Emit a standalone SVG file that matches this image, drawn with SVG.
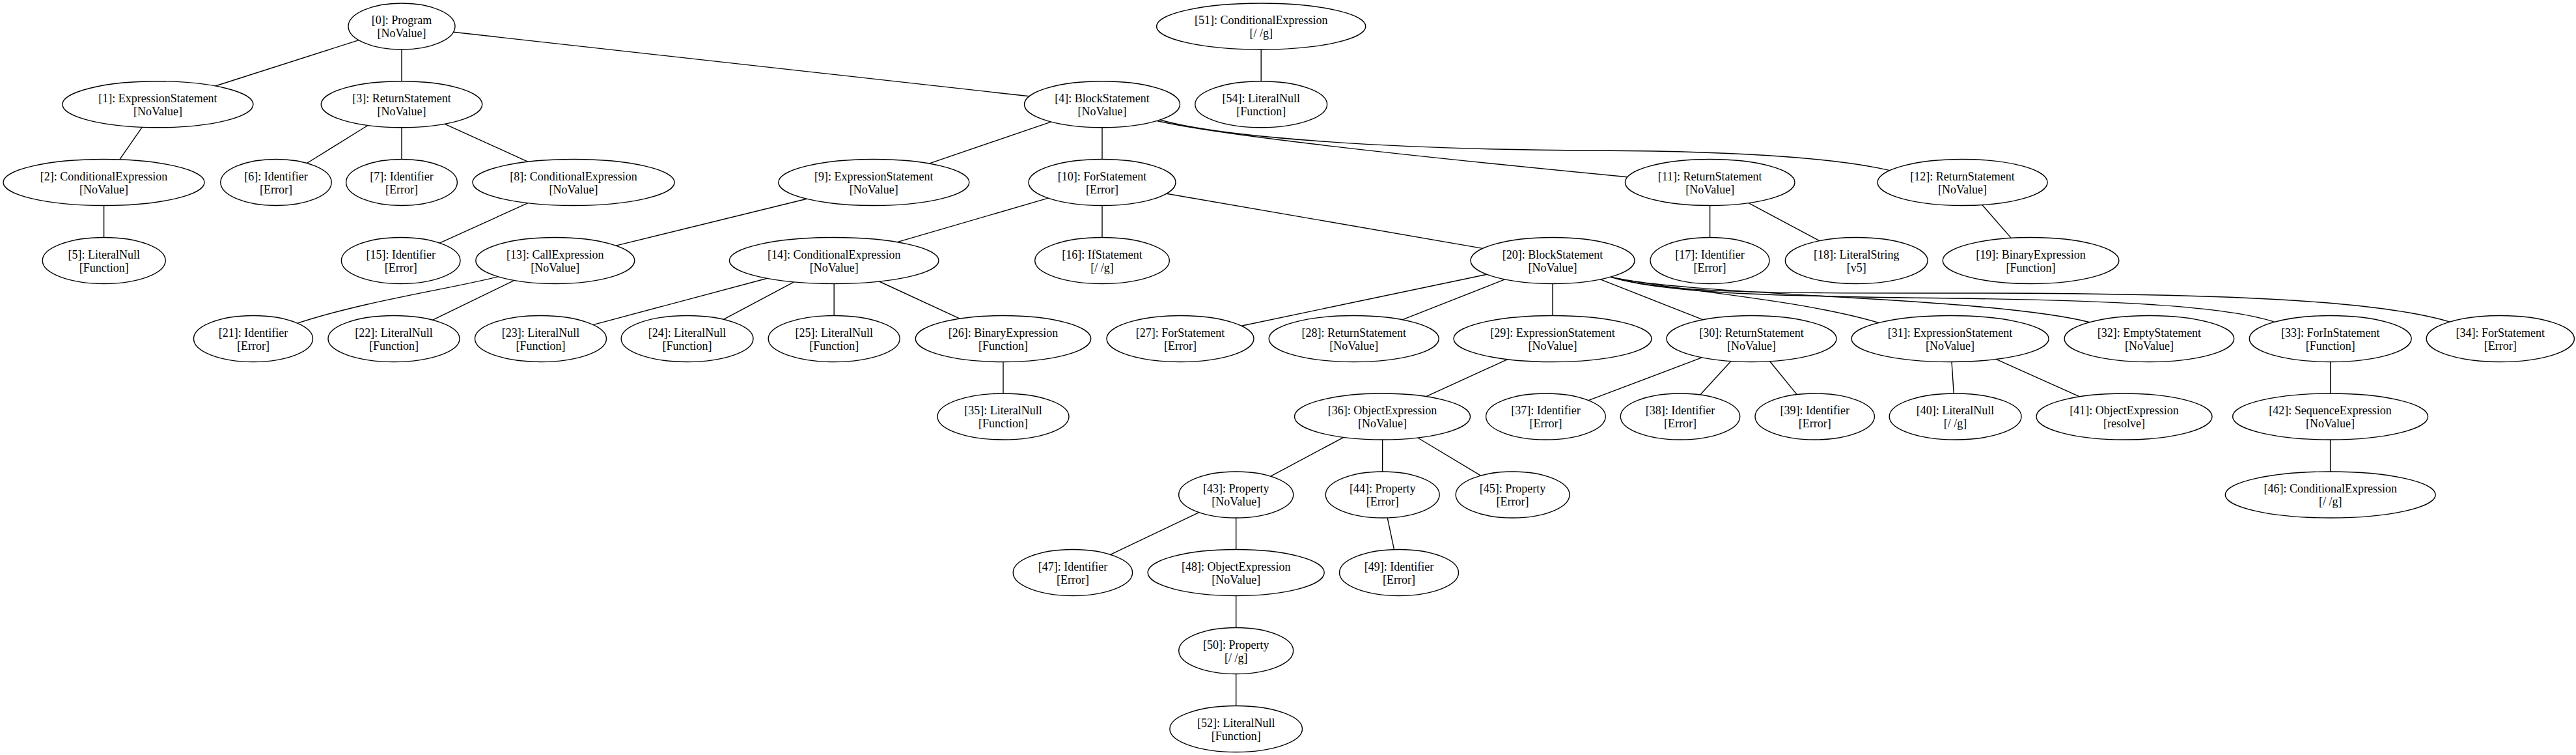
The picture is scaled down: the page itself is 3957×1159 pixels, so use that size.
<svg xmlns="http://www.w3.org/2000/svg" width="3957" height="1159" viewBox="0 0 3957 1159">
<style>
.n ellipse{fill:none;stroke:#000;stroke-width:1.4}
.n text{font-family:"Liberation Serif","Times New Roman",serif;font-size:18px;fill:#000;text-anchor:middle}
#edges path,#edges line{fill:none;stroke:#000;stroke-width:1.4}
</style>
<rect width="3957" height="1159" fill="#fff"/>
<g id="edges">
<line x1="551.1" y1="61.6" x2="330.9" y2="132"/>
<line x1="617" y1="76" x2="617" y2="124.8"/>
<line x1="696.4" y1="49.3" x2="1581.1" y2="147.8"/>
<line x1="218.2" y1="195.3" x2="183.8" y2="244.9"/>
<line x1="159.6" y1="315.5" x2="159.6" y2="364.5"/>
<line x1="565" y1="192.5" x2="471.5" y2="250.5"/>
<line x1="617" y1="195.8" x2="617" y2="244.5"/>
<line x1="683.2" y1="190.3" x2="811.1" y2="248.3"/>
<line x1="1614.5" y1="187.1" x2="1427.1" y2="251.1"/>
<line x1="1693" y1="195.8" x2="1693" y2="244.5"/>
<path d="M1777,185.6 Q1900,214 2500,271.7"/>
<path d="M1782,184 C1880,212 2150,230 2450,231 C2700,232 2830,245 2903,261.6"/>
<line x1="811" y1="311.7" x2="675.2" y2="373.1"/>
<line x1="1239.3" y1="305.2" x2="946.1" y2="377.1"/>
<line x1="1610.2" y1="304.1" x2="1378.3" y2="371.7"/>
<line x1="1693" y1="315.5" x2="1693" y2="364.5"/>
<line x1="1791.9" y1="297.2" x2="2277.7" y2="381.4"/>
<line x1="2626.6" y1="315.5" x2="2626.6" y2="364.5"/>
<line x1="2686" y1="311.6" x2="2794.8" y2="369.7"/>
<line x1="3044.8" y1="314.5" x2="3089.3" y2="365.4"/>
<path d="M765,424.6 C700,442 560,462 457,496.2"/>
<line x1="790" y1="430.4" x2="664.3" y2="491.3"/>
<line x1="1178.6" y1="427.3" x2="911" y2="498.6"/>
<line x1="1219.6" y1="432.8" x2="1111.3" y2="490.3"/>
<line x1="1281.2" y1="435.5" x2="1281.2" y2="484.5"/>
<line x1="1350.5" y1="432" x2="1474.3" y2="489.2"/>
<line x1="2283.9" y1="421.2" x2="1907" y2="500.3"/>
<line x1="2311.6" y1="428.9" x2="2154" y2="490.8"/>
<line x1="2385" y1="435.5" x2="2385" y2="484.5"/>
<line x1="2458.4" y1="428.9" x2="2616.2" y2="490.8"/>
<path d="M2474,425.1 C2560,445 2760,458 2886,495.5"/>
<path d="M2474,425.1 C2600,455 3050,455 3210,494.7"/>
<path d="M2474,425.1 C2560,452 2750,455 3000,458 C3250,461 3420,470 3494,494.3"/>
<path d="M2474,425.1 C2560,450 2700,450 3000,450 C3400,450 3650,460 3763,494.1"/>
<line x1="1541" y1="555.5" x2="1541" y2="604"/>
<line x1="2315.8" y1="551.6" x2="2190.8" y2="608.7"/>
<line x1="2614.3" y1="548.8" x2="2440.1" y2="614.7"/>
<line x1="2658.9" y1="554.5" x2="2611.7" y2="606"/>
<line x1="2718.7" y1="554.7" x2="2760.2" y2="605.6"/>
<line x1="2998" y1="555.4" x2="3001.2" y2="604"/>
<line x1="3066" y1="551.4" x2="3194.5" y2="608.9"/>
<line x1="3579.7" y1="555.5" x2="3579.7" y2="604"/>
<line x1="2063.9" y1="671.3" x2="1951.8" y2="731.2"/>
<line x1="2123.6" y1="675" x2="2123.6" y2="724"/>
<line x1="2177.7" y1="672" x2="2274.6" y2="730.1"/>
<line x1="3579.6" y1="675" x2="3579.6" y2="724"/>
<line x1="1841.8" y1="786.6" x2="1705.7" y2="851.4"/>
<line x1="1898.7" y1="795" x2="1898.7" y2="843.5"/>
<line x1="2131.2" y1="794.9" x2="2141.5" y2="843.6"/>
<line x1="1898.7" y1="914.5" x2="1898.7" y2="963.5"/>
<line x1="1898.7" y1="1034.5" x2="1898.7" y2="1083.5"/>
<line x1="1937.2" y1="76" x2="1937.2" y2="124.8"/>
</g>
<g id="node0" class="n"><ellipse cx="617" cy="40.5" rx="82" ry="35.5"/><text x="617" y="37">[0]: Program</text><text x="617" y="57">[NoValue]</text></g>
<g id="node1" class="n"><ellipse cx="242.4" cy="160.3" rx="146.5" ry="35.5"/><text x="242.4" y="156.8">[1]: ExpressionStatement</text><text x="242.4" y="176.8">[NoValue]</text></g>
<g id="node2" class="n"><ellipse cx="159.5" cy="280" rx="154.5" ry="35.5"/><text x="159.5" y="276.5">[2]: ConditionalExpression</text><text x="159.5" y="296.5">[NoValue]</text></g>
<g id="node3" class="n"><ellipse cx="617" cy="160.3" rx="123.7" ry="35.5"/><text x="617" y="156.8">[3]: ReturnStatement</text><text x="617" y="176.8">[NoValue]</text></g>
<g id="node4" class="n"><ellipse cx="1693" cy="160.3" rx="119.5" ry="35.5"/><text x="1693" y="156.8">[4]: BlockStatement</text><text x="1693" y="176.8">[NoValue]</text></g>
<g id="node5" class="n"><ellipse cx="159.7" cy="400" rx="94.5" ry="35.5"/><text x="159.7" y="396.5">[5]: LiteralNull</text><text x="159.7" y="416.5">[Function]</text></g>
<g id="node6" class="n"><ellipse cx="424" cy="280" rx="85.2" ry="35.5"/><text x="424" y="276.5">[6]: Identifier</text><text x="424" y="296.5">[Error]</text></g>
<g id="node7" class="n"><ellipse cx="617" cy="280" rx="85.4" ry="35.5"/><text x="617" y="276.5">[7]: Identifier</text><text x="617" y="296.5">[Error]</text></g>
<g id="node8" class="n"><ellipse cx="881" cy="280" rx="155" ry="35.5"/><text x="881" y="276.5">[8]: ConditionalExpression</text><text x="881" y="296.5">[NoValue]</text></g>
<g id="node9" class="n"><ellipse cx="1342.3" cy="280" rx="146.5" ry="35.5"/><text x="1342.3" y="276.5">[9]: ExpressionStatement</text><text x="1342.3" y="296.5">[NoValue]</text></g>
<g id="node10" class="n"><ellipse cx="1693" cy="280" rx="113" ry="35.5"/><text x="1693" y="276.5">[10]: ForStatement</text><text x="1693" y="296.5">[Error]</text></g>
<g id="node11" class="n"><ellipse cx="2626.7" cy="280" rx="130.3" ry="35.5"/><text x="2626.7" y="276.5">[11]: ReturnStatement</text><text x="2626.7" y="296.5">[NoValue]</text></g>
<g id="node12" class="n"><ellipse cx="3014.6" cy="280" rx="130.5" ry="35.5"/><text x="3014.6" y="276.5">[12]: ReturnStatement</text><text x="3014.6" y="296.5">[NoValue]</text></g>
<g id="node13" class="n"><ellipse cx="852.8" cy="400" rx="122" ry="35.5"/><text x="852.8" y="396.5">[13]: CallExpression</text><text x="852.8" y="416.5">[NoValue]</text></g>
<g id="node14" class="n"><ellipse cx="1281.2" cy="400" rx="160.8" ry="35.5"/><text x="1281.2" y="396.5">[14]: ConditionalExpression</text><text x="1281.2" y="416.5">[NoValue]</text></g>
<g id="node15" class="n"><ellipse cx="615.7" cy="400" rx="91.3" ry="35.5"/><text x="615.7" y="396.5">[15]: Identifier</text><text x="615.7" y="416.5">[Error]</text></g>
<g id="node16" class="n"><ellipse cx="1693" cy="400" rx="103.3" ry="35.5"/><text x="1693" y="396.5">[16]: IfStatement</text><text x="1693" y="416.5">[/ /g]</text></g>
<g id="node17" class="n"><ellipse cx="2626.5" cy="400" rx="91.5" ry="35.5"/><text x="2626.5" y="396.5">[17]: Identifier</text><text x="2626.5" y="416.5">[Error]</text></g>
<g id="node18" class="n"><ellipse cx="2851.7" cy="400" rx="109.4" ry="35.5"/><text x="2851.7" y="396.5">[18]: LiteralString</text><text x="2851.7" y="416.5">[v5]</text></g>
<g id="node19" class="n"><ellipse cx="3119.6" cy="400" rx="135.3" ry="35.5"/><text x="3119.6" y="396.5">[19]: BinaryExpression</text><text x="3119.6" y="416.5">[Function]</text></g>
<g id="node20" class="n"><ellipse cx="2385" cy="400" rx="126" ry="35.5"/><text x="2385" y="396.5">[20]: BlockStatement</text><text x="2385" y="416.5">[NoValue]</text></g>
<g id="node21" class="n"><ellipse cx="389" cy="520" rx="91.5" ry="35.5"/><text x="389" y="516.5">[21]: Identifier</text><text x="389" y="536.5">[Error]</text></g>
<g id="node22" class="n"><ellipse cx="605" cy="520" rx="101" ry="35.5"/><text x="605" y="516.5">[22]: LiteralNull</text><text x="605" y="536.5">[Function]</text></g>
<g id="node23" class="n"><ellipse cx="830.5" cy="520" rx="101" ry="35.5"/><text x="830.5" y="516.5">[23]: LiteralNull</text><text x="830.5" y="536.5">[Function]</text></g>
<g id="node24" class="n"><ellipse cx="1055.6" cy="520" rx="101.4" ry="35.5"/><text x="1055.6" y="516.5">[24]: LiteralNull</text><text x="1055.6" y="536.5">[Function]</text></g>
<g id="node25" class="n"><ellipse cx="1281.2" cy="520" rx="101" ry="35.5"/><text x="1281.2" y="516.5">[25]: LiteralNull</text><text x="1281.2" y="536.5">[Function]</text></g>
<g id="node26" class="n"><ellipse cx="1541" cy="520" rx="134.7" ry="35.5"/><text x="1541" y="516.5">[26]: BinaryExpression</text><text x="1541" y="536.5">[Function]</text></g>
<g id="node27" class="n"><ellipse cx="1813" cy="520" rx="113" ry="35.5"/><text x="1813" y="516.5">[27]: ForStatement</text><text x="1813" y="536.5">[Error]</text></g>
<g id="node28" class="n"><ellipse cx="2079.7" cy="520" rx="130.5" ry="35.5"/><text x="2079.7" y="516.5">[28]: ReturnStatement</text><text x="2079.7" y="536.5">[NoValue]</text></g>
<g id="node29" class="n"><ellipse cx="2385" cy="520" rx="152" ry="35.5"/><text x="2385" y="516.5">[29]: ExpressionStatement</text><text x="2385" y="536.5">[NoValue]</text></g>
<g id="node30" class="n"><ellipse cx="2690.5" cy="520" rx="130.5" ry="35.5"/><text x="2690.5" y="516.5">[30]: ReturnStatement</text><text x="2690.5" y="536.5">[NoValue]</text></g>
<g id="node31" class="n"><ellipse cx="2995.6" cy="520" rx="151.5" ry="35.5"/><text x="2995.6" y="516.5">[31]: ExpressionStatement</text><text x="2995.6" y="536.5">[NoValue]</text></g>
<g id="node32" class="n"><ellipse cx="3301.4" cy="520" rx="130.3" ry="35.5"/><text x="3301.4" y="516.5">[32]: EmptyStatement</text><text x="3301.4" y="536.5">[NoValue]</text></g>
<g id="node33" class="n"><ellipse cx="3579.7" cy="520" rx="124.4" ry="35.5"/><text x="3579.7" y="516.5">[33]: ForInStatement</text><text x="3579.7" y="536.5">[Function]</text></g>
<g id="node34" class="n"><ellipse cx="3840.8" cy="520" rx="113.6" ry="35.5"/><text x="3840.8" y="516.5">[34]: ForStatement</text><text x="3840.8" y="536.5">[Error]</text></g>
<g id="node35" class="n"><ellipse cx="1541" cy="639.5" rx="101" ry="35.5"/><text x="1541" y="636">[35]: LiteralNull</text><text x="1541" y="656">[Function]</text></g>
<g id="node36" class="n"><ellipse cx="2123.5" cy="639.5" rx="135" ry="35.5"/><text x="2123.5" y="636">[36]: ObjectExpression</text><text x="2123.5" y="656">[NoValue]</text></g>
<g id="node37" class="n"><ellipse cx="2374.4" cy="639.5" rx="91.8" ry="35.5"/><text x="2374.4" y="636">[37]: Identifier</text><text x="2374.4" y="656">[Error]</text></g>
<g id="node38" class="n"><ellipse cx="2581" cy="639.5" rx="91.7" ry="35.5"/><text x="2581" y="636">[38]: Identifier</text><text x="2581" y="656">[Error]</text></g>
<g id="node39" class="n"><ellipse cx="2787.7" cy="639.5" rx="91.7" ry="35.5"/><text x="2787.7" y="636">[39]: Identifier</text><text x="2787.7" y="656">[Error]</text></g>
<g id="node40" class="n"><ellipse cx="3003.6" cy="639.5" rx="101.4" ry="35.5"/><text x="3003.6" y="636">[40]: LiteralNull</text><text x="3003.6" y="656">[/ /g]</text></g>
<g id="node41" class="n"><ellipse cx="3263" cy="639.5" rx="135" ry="35.5"/><text x="3263" y="636">[41]: ObjectExpression</text><text x="3263" y="656">[resolve]</text></g>
<g id="node42" class="n"><ellipse cx="3579.6" cy="639.5" rx="150" ry="35.5"/><text x="3579.6" y="636">[42]: SequenceExpression</text><text x="3579.6" y="656">[NoValue]</text></g>
<g id="node43" class="n"><ellipse cx="1898.7" cy="759.5" rx="88" ry="35.5"/><text x="1898.7" y="756">[43]: Property</text><text x="1898.7" y="776">[NoValue]</text></g>
<g id="node44" class="n"><ellipse cx="2123.7" cy="759.5" rx="87.4" ry="35.5"/><text x="2123.7" y="756">[44]: Property</text><text x="2123.7" y="776">[Error]</text></g>
<g id="node45" class="n"><ellipse cx="2323.6" cy="759.5" rx="87.4" ry="35.5"/><text x="2323.6" y="756">[45]: Property</text><text x="2323.6" y="776">[Error]</text></g>
<g id="node46" class="n"><ellipse cx="3579.7" cy="759.5" rx="161.4" ry="35.5"/><text x="3579.7" y="756">[46]: ConditionalExpression</text><text x="3579.7" y="776">[/ /g]</text></g>
<g id="node47" class="n"><ellipse cx="1647.9" cy="879" rx="91.7" ry="35.5"/><text x="1647.9" y="875.5">[47]: Identifier</text><text x="1647.9" y="895.5">[Error]</text></g>
<g id="node48" class="n"><ellipse cx="1898.7" cy="879" rx="135.5" ry="35.5"/><text x="1898.7" y="875.5">[48]: ObjectExpression</text><text x="1898.7" y="895.5">[NoValue]</text></g>
<g id="node49" class="n"><ellipse cx="2149" cy="879" rx="91.5" ry="35.5"/><text x="2149" y="875.5">[49]: Identifier</text><text x="2149" y="895.5">[Error]</text></g>
<g id="node50" class="n"><ellipse cx="1898.7" cy="999" rx="88" ry="35.5"/><text x="1898.7" y="995.5">[50]: Property</text><text x="1898.7" y="1015.5">[/ /g]</text></g>
<g id="node51" class="n"><ellipse cx="1937.2" cy="40.5" rx="160.6" ry="35.5"/><text x="1937.2" y="37">[51]: ConditionalExpression</text><text x="1937.2" y="57">[/ /g]</text></g>
<g id="node52" class="n"><ellipse cx="1898.7" cy="1119" rx="101.8" ry="35.5"/><text x="1898.7" y="1115.5">[52]: LiteralNull</text><text x="1898.7" y="1135.5">[Function]</text></g>
<g id="node54" class="n"><ellipse cx="1937.2" cy="160.3" rx="101.4" ry="35.5"/><text x="1937.2" y="156.8">[54]: LiteralNull</text><text x="1937.2" y="176.8">[Function]</text></g>
</svg>
